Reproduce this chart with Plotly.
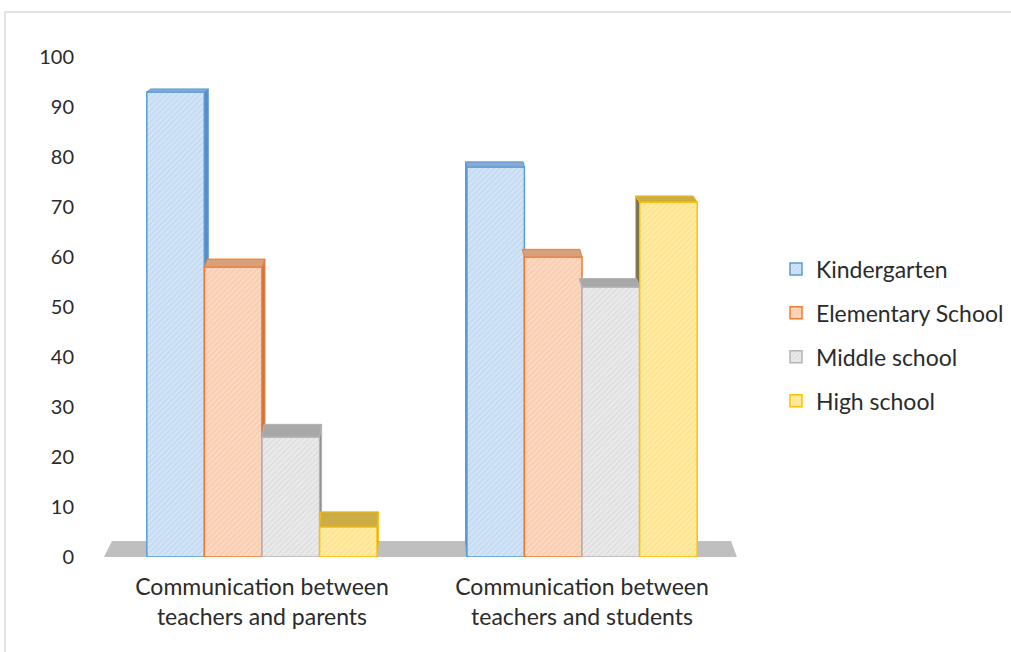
import plotly.graph_objects as go

# ---- data ----
categories = ["Communication between<br>teachers and parents",
              "Communication between<br>teachers and students"]
series_names = ["Kindergarten", "Elementary School", "Middle school", "High school"]
kindergarten = [93, 78]
elementary = [58, 60]
middle = [24, 54]
high = [6, 71]
y_ticks = [0, 10, 20, 30, 40, 50, 60, 70, 80, 90, 100]

values = [kindergarten, elementary, middle, high]

# ---- style ----
bg_colors = ["#d2e4f6", "#fbd8c1", "#eaeaea", "#ffeba5"]
fg_colors = ["#a9c9ec", "#f5b68e", "#cbcbcb", "#f9d660"]
line_colors = ["#5b9bd5", "#ed7d31", "#b4b4b4", "#ffc000"]
top_colors = ["#86aad6", "#d9a07c", "#a8a8a8", "#cbac45"]
side_colors = ["#5f8bc4", "#c07a4f", "#8c8c8c", "#7d7552"]

FONT = "Lato, Calibri, Carlito, sans-serif"
TXT = "#2b2b2b"

W = 0.18
offsets = [-0.36, -0.18, 0.0, 0.18]  # left edge offsets from category centre
XV = 0.4875       # perspective vanishing x (data units)
K = 0.016         # horizontal perspective shift factor
DEPTH0 = 3.2      # depth (y units) at floor level


def depth(v):
    return DEPTH0 * (1 - v / 115.0)


fig = go.Figure()

# front faces as bars
for i, name in enumerate(series_names):
    fig.add_trace(go.Bar(
        x=[0, 1], y=values[i], name=name, width=W, offset=offsets[i],
        marker=dict(color=bg_colors[i],
                    line=dict(color=line_colors[i], width=1.5),
                    pattern=dict(shape="/", fgcolor=fg_colors[i], bgcolor=bg_colors[i],
                                 size=4, solidity=0.3)),
        legendgroup=name,
    ))

# pseudo-3D top and side faces
for j in range(2):
    order = list(range(4))
    centre_dx = -((j) - XV) * K
    if centre_dx < 0:
        order = order[::-1]
    for i in order:
        v = values[i][j]
        x0 = j + offsets[i]
        x1 = x0 + W
        c = (x0 + x1) / 2
        dx = -(c - XV) * K
        d = depth(v)
        if dx > 0:
            edge = x1
            nb = values[i + 1][j] if i < 3 else 0
        else:
            edge = x0
            nb = values[i - 1][j] if i > 0 else 0
        if nb < v:
            dlo = depth(nb)
            fig.add_trace(go.Scatter(
                x=[edge, edge + dx, edge + dx, edge, edge],
                y=[nb, nb + dlo, v + d, v, nb],
                mode="lines", fill="toself", fillcolor=side_colors[i],
                line=dict(color=line_colors[i], width=1),
                showlegend=False, hoverinfo="skip"))
        fig.add_trace(go.Scatter(
            x=[x0, x0 + dx, x1 + dx, x1, x0],
            y=[v, v + d, v + d, v, v],
            mode="lines", fill="toself", fillcolor=top_colors[i],
            line=dict(color=line_colors[i], width=1),
            showlegend=False, hoverinfo="skip"))

L, T = 102, 57
PW, PH = 640, 500


def px(p):
    return (p - L) / PW


def py(q):
    return (T + PH - q) / PH


shapes = [
    dict(type="rect", xref="paper", yref="paper",
         x0=px(5), x1=px(1030), y0=py(670), y1=py(12),
         line=dict(color="#d9d9d9", width=1.5), fillcolor="rgba(0,0,0,0)", layer="below"),
    dict(type="path", xref="x", yref="y", layer="below",
         path="M -0.494 0 L 1.484 0 L 1.466 3.2 L -0.469 3.2 Z",
         fillcolor="#bfbfbf", line=dict(width=0)),
]

fig.update_layout(
    width=1011, height=652,
    margin=dict(l=L, r=1011 - L - PW, t=T, b=652 - T - PH, autoexpand=False),
    paper_bgcolor="white", plot_bgcolor="white",
    barmode="overlay",
    font=dict(family=FONT, size=20, color=TXT),
    showlegend=True,
    legend=dict(x=px(776), y=py(335), xanchor="left", yanchor="middle",
                font=dict(family=FONT, size=23, color=TXT),
                tracegroupgap=11, traceorder="grouped",
                bgcolor="rgba(0,0,0,0)"),
    shapes=shapes,
    xaxis=dict(range=[-0.5, 1.5], tickvals=[0, 1], ticktext=categories,
               showgrid=False, zeroline=False, showline=False, ticks="",
               ticklabelstandoff=14,
               tickfont=dict(family=FONT, size=23, color=TXT)),
    yaxis=dict(range=[0, 100], tickvals=y_ticks, showgrid=False, zeroline=False,
               showline=False, ticks="", ticklabelstandoff=27,
               tickfont=dict(family=FONT, size=20, color=TXT)),
)

fig.write_html("out.html")
